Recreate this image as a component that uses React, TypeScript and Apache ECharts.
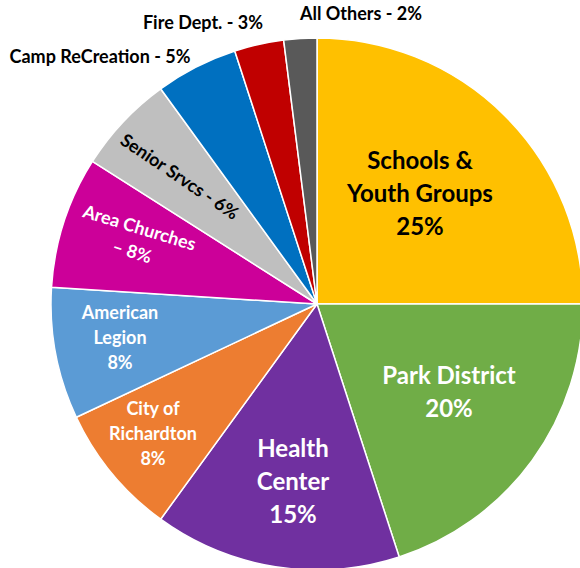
import React, { useEffect, useRef } from "react";
import * as echarts from "echarts";

const categories = [
  "Schools &\nYouth Groups\n25%",
  "Park District\n20%",
  "Health\nCenter\n15%",
  "City of\nRichardton\n8%",
  "American\nLegion\n8%",
  "Area Churches\n– 8%",
  "Senior Srvcs - 6%",
  "Camp ReCreation - 5%",
  "Fire Dept. - 3%",
  "All Others - 2%",
];
const values = [25, 20, 15, 8, 8, 8, 6, 5, 3, 2];
const colors = [
  "#FFC000",
  "#70AD47",
  "#7030A0",
  "#ED7D31",
  "#5B9BD5",
  "#CC0099",
  "#BFBFBF",
  "#0070C0",
  "#C00000",
  "#595959",
];

// label styling / placement (layout, not data)
const labelColor = ["#000", "#fff", "#fff", "#fff", "#fff", "#fff", "#000", "#000", "#000", "#000"];
const labelSize = [24, 24, 24, 18, 18, 18, 18, 18, 18, 18];
const labelLH = [33, 33, 33, 25, 25, 25, 22, 22, 22, 22];
const labelXY: [number, number][] = [
  [420, 192],
  [449, 391],
  [293, 480],
  [153, 433],
  [120, 337],
  [136, 239],
  [180, 176],
  [100, 56],
  [203, 22],
  [361, 13],
];
const labelRot = [0, 0, 0, 0, 0, -17, -34, 0, 0, 0];

export default function App() {
  const ref = useRef<HTMLDivElement>(null);
  useEffect(() => {
    if (!ref.current) return;
    const chart = echarts.init(ref.current, null, { renderer: "svg" });
    chart.setOption({
      animation: false,
      backgroundColor: "#fff",
      series: [
        {
          type: "pie",
          center: [317, 304],
          radius: 266,
          startAngle: 90,
          clockwise: true,
          itemStyle: { borderColor: "#fff", borderWidth: 1.5 },
          labelLine: { show: false },
          emphasis: { disabled: true },
          label: {
            show: true,
            position: "inside",
            fontFamily: "Lato",
            fontWeight: "bold",
            align: "center",
          },
          labelLayout: (p: any) => {
            const i = p.dataIndex;
            return {
              x: labelXY[i][0],
              y: labelXY[i][1],
              align: "center",
              verticalAlign: "middle",
              rotate: labelRot[i],
            };
          },
          data: values.map((v, i) => ({
            value: v,
            name: categories[i],
            itemStyle: { color: colors[i] },
            label: {
              formatter: categories[i],
              color: labelColor[i],
              fontSize: labelSize[i],
              lineHeight: labelLH[i],
              rotate: labelRot[i],
            },
          })),
        },
      ],
    });
    return () => chart.dispose();
  }, []);
  return (
    <div
      ref={ref}
      style={{ position: "fixed", left: 0, top: 0, width: 580, height: 568 }}
    />
  );
}
